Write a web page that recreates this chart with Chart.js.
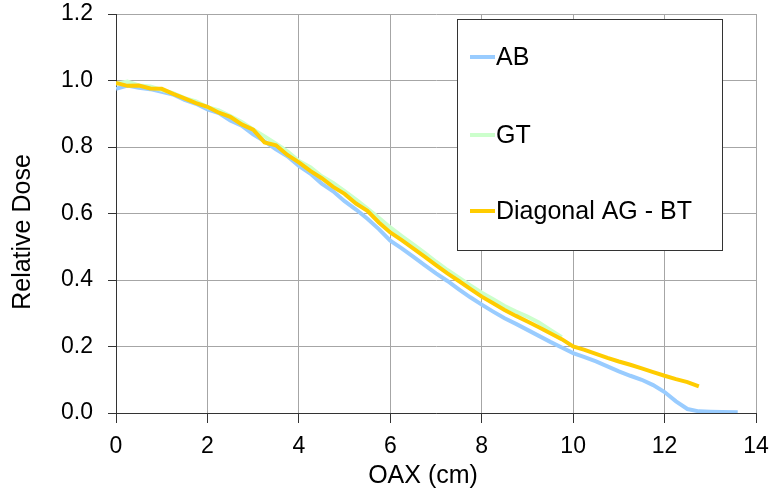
<!DOCTYPE html>
<html>
<head>
<meta charset="utf-8">
<script src="https://cdn.jsdelivr.net/npm/chart.js@4"></script>
<style>
  html, body { margin: 0; padding: 0; background: #fff; }
  #wrap { width: 771px; height: 490px; }
</style>
</head>
<body>
<div id="wrap"><canvas id="doseChart" width="771" height="490"></canvas></div>
<script>
// off-axis distance (cm), every 0.25 cm
const oax = [0, 0.25, 0.5, 0.75, 1, 1.25, 1.5, 1.75, 2, 2.25, 2.5, 2.75, 3, 3.25, 3.5, 3.75,
  4, 4.25, 4.5, 4.75, 5, 5.25, 5.5, 5.75, 6, 6.25, 6.5, 6.75, 7, 7.25, 7.5, 7.75,
  8, 8.25, 8.5, 8.75, 9, 9.25, 9.5, 9.75, 10, 10.25, 10.5, 10.75, 11, 11.25, 11.5, 11.75,
  12, 12.25, 12.5, 12.75, 13, 13.25, 13.6];

const abDose = [0.975, 0.985, 0.978, 0.974, 0.966, 0.958, 0.942, 0.93, 0.913, 0.902, 0.88, 0.864, 0.838, 0.817, 0.793, 0.772,
  0.743, 0.72, 0.69, 0.667, 0.637, 0.612, 0.584, 0.553, 0.518, 0.495, 0.47, 0.445, 0.42, 0.397, 0.372, 0.348,
  0.326, 0.305, 0.285, 0.268, 0.25, 0.232, 0.214, 0.197, 0.18, 0.168, 0.155, 0.14, 0.125, 0.112, 0.1, 0.084,
  0.063, 0.035, 0.012, 0.005, 0.004, 0.003, 0.002];

const gtDose = [0.99, 0.997, 0.985, 0.982, 0.972, 0.962, 0.947, 0.937, 0.92, 0.91, 0.893, 0.875, 0.853, 0.832, 0.81, 0.787,
  0.758, 0.739, 0.712, 0.692, 0.667, 0.642, 0.615, 0.587, 0.558, 0.532, 0.507, 0.482, 0.455, 0.43, 0.407, 0.384,
  0.362, 0.342, 0.322, 0.305, 0.29, 0.272, 0.25, 0.228];

const diagDose = [0.993, 0.984, 0.985, 0.976, 0.975, 0.96, 0.946, 0.932, 0.921, 0.903, 0.891, 0.868, 0.852, 0.814, 0.805, 0.776,
  0.754, 0.728, 0.706, 0.68, 0.659, 0.63, 0.608, 0.573, 0.543, 0.52, 0.495, 0.47, 0.445, 0.42, 0.397, 0.373,
  0.35, 0.33, 0.31, 0.292, 0.275, 0.258, 0.24, 0.222, 0.2, 0.19, 0.178, 0.166, 0.155, 0.145, 0.134, 0.123,
  0.112, 0.102, 0.093, 0.08];

const seriesNames = ["AB", "GT", "Diagonal AG - BT"];
const seriesColors = ["#99ccff", "#ccffcc", "#ffcc00"];
const xTitle = "OAX (cm)";
const yTitle = "Relative Dose";

const FONT = "'Liberation Sans', Arial, sans-serif";

function toPoints(ys) {
  return ys.map((y, i) => ({ x: oax[i], y: y }));
}

// axis titles + legend box inside the plot, like the original
const boxLegend = {
  id: "boxLegend",
  afterDraw(chart) {
    const ctx = chart.ctx;
    ctx.save();
    ctx.fillStyle = "#000";
    ctx.font = "25px " + FONT;
    ctx.textAlign = "center";
    ctx.textBaseline = "middle";
    ctx.fillText(xTitle, 423, 476);
    ctx.translate(23, 232);
    ctx.rotate(-Math.PI / 2);
    ctx.fillText(yTitle, 0, 0);
    ctx.restore();

    ctx.save();
    const bx = 457, by = 19, bw = 265, bh = 231;
    ctx.fillStyle = "#fff";
    ctx.fillRect(bx, by, bw, bh);
    ctx.strokeStyle = "#333";
    ctx.lineWidth = 1;
    ctx.strokeRect(bx + 0.5, by + 0.5, bw, bh);
    const rows = [57, 135, 211];
    ctx.font = "25px " + FONT;
    ctx.textBaseline = "middle";
    chart.data.datasets.forEach((ds, i) => {
      ctx.strokeStyle = ds.borderColor;
      ctx.lineWidth = 4;
      ctx.beginPath();
      ctx.moveTo(470, rows[i]);
      ctx.lineTo(495, rows[i]);
      ctx.stroke();
      ctx.fillStyle = "#000";
      ctx.fillText(ds.label, 496, rows[i] + 1);
    });
    ctx.restore();
  }
};

const ctx = document.getElementById("doseChart").getContext("2d");
new Chart(ctx, {
  type: "line",
  data: {
    datasets: [
      { label: seriesNames[0], data: toPoints(abDose), borderColor: seriesColors[0], order: 2 },
      { label: seriesNames[1], data: toPoints(gtDose), borderColor: seriesColors[1], order: 1 },
      { label: seriesNames[2], data: toPoints(diagDose), borderColor: seriesColors[2], order: 0 },
    ],
  },
  options: {
    responsive: false,
    animation: false,
    layout: { padding: { top: 14, right: 15, left: 0, bottom: 0 } },
    elements: {
      line: { borderWidth: 4, tension: 0, fill: false },
      point: { radius: 0 },
    },
    plugins: {
      legend: { display: false },
      tooltip: { enabled: false },
    },
    scales: {
      x: {
        type: "linear",
        min: 0,
        max: 14,
        afterFit: (s) => { s.height = 77; s.paddingLeft = 0; s.paddingRight = 0; },
        ticks: { stepSize: 2, color: "#000", padding: 10, font: { family: FONT, size: 23 } },
        grid: { color: "#a6a6a6", tickColor: "#333", tickLength: 10 },
        border: { color: "#333", width: 1 },
      },
      y: {
        min: 0,
        max: 1.2,
        afterFit: (s) => { s.width = 116; s.paddingTop = 0; s.paddingBottom = 0; },
        ticks: {
          stepSize: 0.2,
          color: "#000",
          padding: 15,
          font: { family: FONT, size: 23 },
          callback: (v) => v.toFixed(1),
        },
        grid: { color: "#a6a6a6", tickColor: "#333", tickLength: 8 },
        border: { color: "#333", width: 1 },
      },
    },
  },
  plugins: [boxLegend],
});
</script>
</body>
</html>
